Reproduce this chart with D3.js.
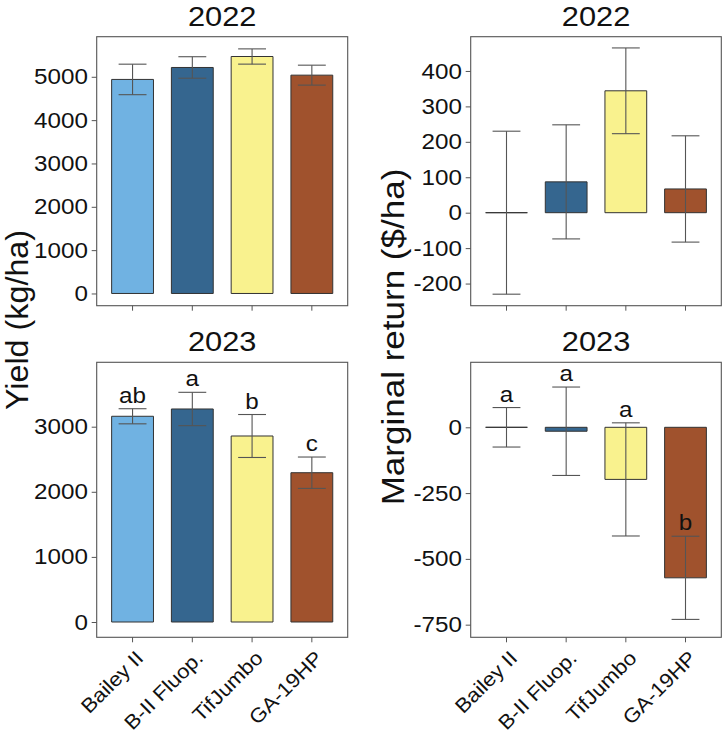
<!DOCTYPE html>
<html>
<head>
<meta charset="utf-8">
<script src="https://cdn.jsdelivr.net/npm/d3@7"></script>
<style>
  body { margin: 0; background: #fff; }
  svg { display: block; font-family: "Liberation Sans", Arial, sans-serif; }
</style>
</head>
<body>
<div id="chart"></div>
<script>
// cultivars / treatments
const categories = ["Bailey II", "B-II Fluop.", "TifJumbo", "GA-19HP"];
const barColors = ["#70b2e2", "#35668f", "#f9f28e", "#a0522d"];

// yield, kg/ha (mean and standard error)
const yield2022 = [4939, 5215, 5468, 5038];
const yield2022Se = [352, 248, 176, 230];
const yield2023 = [3160, 3272, 2857, 2293];
const yield2023Se = [116, 256, 330, 241];
const yield2023Letters = ["ab", "a", "b", "c"];

// marginal return, $/ha
const return2022 = [0, 87, 344, 67];
const return2022Se = [230, 161, 121, 150];
const return2023 = [0, -15, -198, -572];
const return2023Se = [75, 168, 215, 158];
const return2023Letters = ["a", "a", "a", "b"];

const yieldTicks2022 = [0, 1000, 2000, 3000, 4000, 5000];
const yieldTicks2023 = [0, 1000, 2000, 3000];
const returnTicks2022 = [-200, -100, 0, 100, 200, 300, 400];
const returnTicks2023 = [-750, -500, -250, 0];

const W = 728, H = 738;
const SX = 1.1; // glyphs in the figure run a little wider than Liberation Sans
const svg = d3.select("#chart").append("svg")
    .attr("width", W)
    .attr("height", H);

function drawPanel(p) {
    const x = d3.scaleBand()
        .domain(categories)
        .range([p.left, p.right])
        .paddingInner(0.3)
        .paddingOuter(0.25);
    const y = d3.scaleLinear()
        .domain(p.domain)
        .range([p.bottom, p.top]);

    const g = svg.append("g");

    // title
    g.append("text")
        .attr("transform", "translate(" + (p.left + p.right) / 2 + "," + (p.top - 11) + ") scale(" + SX + ",1)")
        .attr("text-anchor", "middle")
        .style("font-size", "28px")
        .style("fill", "#111")
        .text(p.title);

    const rows = categories.map((c, i) => ({
        cat: c, v: p.values[i], se: p.se[i], col: barColors[i],
        lab: p.letters ? p.letters[i] : null
    }));

    // bars (drawn as paths so a zero bar still shows its outline)
    g.selectAll(".bar")
        .data(rows)
        .enter()
        .append("path")
        .attr("class", "bar")
        .attr("d", d => {
            const x0 = x(d.cat), x1 = x0 + x.bandwidth();
            const y0 = y(0), y1 = y(d.v);
            return "M" + x0 + "," + y0 + "H" + x1 + "V" + y1 + "H" + x0 + "Z";
        })
        .style("fill", d => d.col)
        .style("stroke", "#333")
        .style("stroke-width", 1);

    // error bars
    const half = x.bandwidth() / 3;
    const cx = d => x(d.cat) + x.bandwidth() / 2;
    const eb = g.selectAll(".err")
        .data(rows)
        .enter()
        .append("g")
        .attr("class", "err")
        .style("stroke", "#555")
        .style("stroke-width", 1.1);
    eb.append("line")
        .attr("x1", cx)
        .attr("x2", cx)
        .attr("y1", d => y(d.v - d.se))
        .attr("y2", d => y(d.v + d.se));
    eb.append("line")
        .attr("x1", d => cx(d) - half)
        .attr("x2", d => cx(d) + half)
        .attr("y1", d => y(d.v + d.se))
        .attr("y2", d => y(d.v + d.se));
    eb.append("line")
        .attr("x1", d => cx(d) - half)
        .attr("x2", d => cx(d) + half)
        .attr("y1", d => y(d.v - d.se))
        .attr("y2", d => y(d.v - d.se));

    // significance letters
    if (p.letters) {
        g.selectAll(".lab")
            .data(rows)
            .enter()
            .append("text")
            .attr("class", "lab")
            .attr("transform", d => "translate(" + cx(d) + "," + (y(d.v + d.se) - 6) + ") scale(" + SX + ",1)")
            .attr("text-anchor", "middle")
            .style("font-size", "22px")
            .style("fill", "#111")
            .text(d => d.lab);
    }

    // panel border
    g.append("rect")
        .attr("x", p.left)
        .attr("y", p.top)
        .attr("width", p.right - p.left)
        .attr("height", p.bottom - p.top)
        .style("fill", "none")
        .style("stroke", "#555")
        .style("stroke-width", 1.1);

    // y axis
    const ya = g.append("g")
        .attr("transform", "translate(" + p.left + ",0)")
        .call(d3.axisLeft(y).tickValues(p.ticks).tickSize(5).tickPadding(3).tickFormat(d => String(d)));
    ya.select(".domain").remove();
    ya.selectAll("line").style("stroke", "#555");
    ya.selectAll("text")
        .attr("transform", "scale(" + SX + ",1)")
        .style("font-size", "22px")
        .style("font-family", "Liberation Sans, Arial, sans-serif")
        .style("fill", "#111");

    // x axis
    const xa = g.append("g")
        .attr("transform", "translate(0," + p.bottom + ")")
        .call(d3.axisBottom(x).tickSize(5));
    xa.select(".domain").remove();
    xa.selectAll("line").style("stroke", "#555");
    xa.selectAll("text").remove();
    if (p.xLabels) {
        xa.selectAll(".tick")
            .append("text")
            .attr("transform", "translate(12,22) rotate(-45) scale(" + SX + ",1)")
            .attr("text-anchor", "end")
            .style("font-size", "20px")
            .style("font-family", "Liberation Sans, Arial, sans-serif")
            .style("fill", "#111")
            .text(d => d);
    }
}

const L1 = 96.7, R1 = 347.7, L2 = 470.7, R2 = 721.3;
const T1 = 36.7, B1 = 305.7, T2 = 362.3, B2 = 637.3;

drawPanel({ title: "2022", left: L1, right: R1, top: T1, bottom: B1,
    domain: [-282, 5925], ticks: yieldTicks2022,
    values: yield2022, se: yield2022Se });
drawPanel({ title: "2022", left: L2, right: R2, top: T1, bottom: B1,
    domain: [-262.5, 496.7], ticks: returnTicks2022,
    values: return2022, se: return2022Se });
drawPanel({ title: "2023", left: L1, right: R1, top: T2, bottom: B2,
    domain: [-235, 3989], ticks: yieldTicks2023,
    values: yield2023, se: yield2023Se, letters: yield2023Letters, xLabels: true });
drawPanel({ title: "2023", left: L2, right: R2, top: T2, bottom: B2,
    domain: [-798, 247], ticks: returnTicks2023,
    values: return2023, se: return2023Se, letters: return2023Letters, xLabels: true });

// shared axis titles
svg.append("text")
    .attr("transform", "translate(28,320) rotate(-90) scale(1.06,1)")
    .attr("text-anchor", "middle")
    .style("font-size", "30.5px")
    .style("fill", "#111")
    .text("Yield (kg/ha)");
svg.append("text")
    .attr("transform", "translate(404,337) rotate(-90) scale(1.13,1)")
    .attr("text-anchor", "middle")
    .style("font-size", "31px")
    .style("fill", "#111")
    .text("Marginal return ($/ha)");
</script>
</body>
</html>
